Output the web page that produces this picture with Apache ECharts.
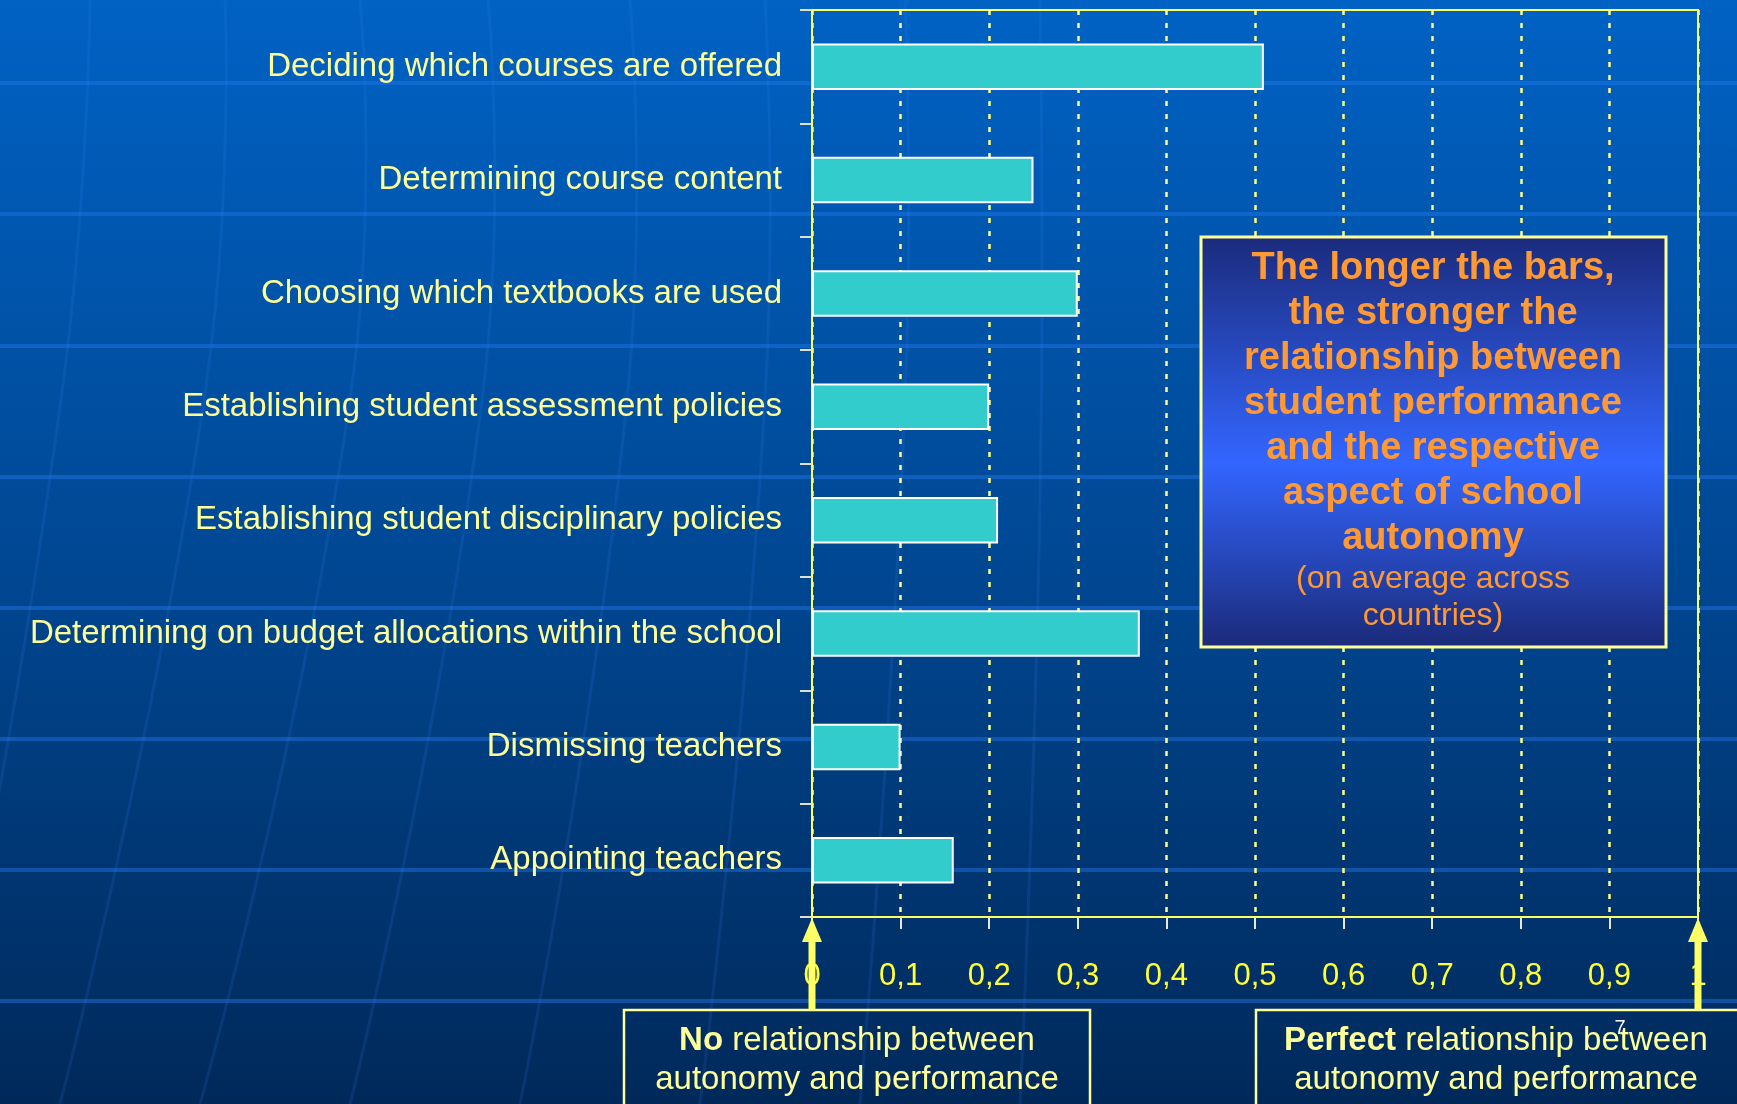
<!DOCTYPE html>
<html>
<head>
<meta charset="utf-8">
<style>
html, body { margin: 0; padding: 0; background: #00449a; }
#main { width: 1737px; height: 1104px; }
</style>
<script src="https://cdn.jsdelivr.net/npm/echarts@6/dist/echarts.min.js"></script>
</head>
<body>
<div id="main"></div>
<script>
// autonomy aspects, top to bottom as on the slide
var categories = [
    'Deciding which courses are offered',
    'Determining course content',
    'Choosing which textbooks are used',
    'Establishing student assessment policies',
    'Establishing student disciplinary policies',
    'Determining on budget allocations within the school',
    'Dismissing teachers',
    'Appointing teachers'
];
var values = [0.51, 0.25, 0.30, 0.20, 0.21, 0.37, 0.10, 0.16];
var tickLabels = ['0', '0,1', '0,2', '0,3', '0,4', '0,5', '0,6', '0,7', '0,8', '0,9', '1'];

var boxLines = [
    'The longer the bars,',
    'the stronger the',
    'relationship between',
    'student performance',
    'and the respective',
    'aspect of school',
    'autonomy'
];
var boxNote = ['(on average across', 'countries)'];

var FONT = "'Liberation Sans', Arial, sans-serif";
var paleYellow = '#ffff99';

var myChart = echarts.init(document.getElementById('main'));

var option = {
    animation: false,
    backgroundColor: {
        type: 'linear', x: 0, y: 0, x2: 0, y2: 1,
        colorStops: [
            {offset: 0, color: '#0062c4'},
            {offset: 0.5, color: '#004894'},
            {offset: 1, color: '#00295a'}
        ]
    },
    grid: {
        left: 812, right: 39, top: 10, bottom: 187,
        containLabel: false,
        show: true,
        borderColor: '#ffff66',
        borderWidth: 2
    },
    xAxis: {
        type: 'value',
        min: 0, max: 1, interval: 0.1,
        axisLine: {show: true, lineStyle: {color: '#ffff66', width: 2}},
        axisTick: {show: true, length: 12, lineStyle: {color: '#e8e8d0', width: 2}},
        axisLabel: {
            color: '#ffff33', fontSize: 31, fontFamily: FONT, margin: 44,
            formatter: function (v) { return tickLabels[Math.round(v * 10)]; }
        },
        splitLine: {
            show: true,
            lineStyle: {color: '#ffff88', width: 2.5, type: [5, 8]}
        }
    },
    yAxis: {
        type: 'category',
        inverse: true,
        data: categories,
        axisLine: {show: true, lineStyle: {color: '#ffff66', width: 2}},
        axisTick: {show: true, length: 12, lineStyle: {color: '#e0e0d0', width: 2}},
        axisLabel: {color: paleYellow, fontSize: 33, fontFamily: FONT, margin: 30, padding: [10, 0, 0, 0]}
    },
    series: [{
        type: 'bar',
        data: values,
        barWidth: '41%',
        itemStyle: {color: '#33cccc', borderColor: '#ffffff', borderWidth: 2}
    }]
};

myChart.setOption(option);

// background decoration: faint globe lines
var deco = [];
[83, 214, 346, 477, 608, 739, 870, 1001].forEach(function (y) {
    deco.push({
        type: 'rect', z: -10, silent: true,
        shape: {x: 0, y: y - 2, width: 1737, height: 4},
        style: {fill: 'rgba(30,120,235,0.45)'}
    });
});
var meridians = [
    [[90, 0], [61, 400], [-60, 1104]],
    [[225, 0], [204, 400], [60, 1104]],
    [[360, 0], [350, 400], [200, 1104]],
    [[488, 0], [482, 400], [350, 1104]],
    [[630, 0], [627, 400], [520, 1104]],
    [[765, 0], [765, 400], [700, 1104]],
    [[905, 0], [905, 400], [860, 1104]],
    [[1040, 0], [1040, 500], [1020, 1104]]
];
meridians.forEach(function (pts) {
    deco.push({
        type: 'polyline', z: -10, silent: true,
        shape: {points: pts, smooth: 0.5},
        style: {stroke: 'rgba(60,140,255,0.13)', lineWidth: 3, fill: null}
    });
});

// explanatory box
deco.push({
    type: 'rect', z: 20,
    shape: {x: 1201, y: 237, width: 465, height: 410},
    style: {
        fill: {
            type: 'linear', x: 0, y: 0, x2: 0, y2: 1,
            colorStops: [
                {offset: 0, color: '#1b2b7c'},
                {offset: 0.55, color: '#3366ff'},
                {offset: 1, color: '#1b2a78'}
            ]
        },
        stroke: paleYellow, lineWidth: 3
    }
});
deco.push({
    type: 'text', z: 21, x: 1433, y: 246,
    style: {
        text: boxLines.join('\n'),
        font: 'bold 38px ' + FONT,
        fill: '#ff9933', textAlign: 'center', textVerticalAlign: 'top',
        lineHeight: 45
    }
});
deco.push({
    type: 'text', z: 21, x: 1433, y: 561,
    style: {
        text: boxNote.join('\n'),
        font: '32px ' + FONT,
        fill: '#ff9933', textAlign: 'center', textVerticalAlign: 'top',
        lineHeight: 37
    }
});

// bottom boxes
deco.push({
    type: 'rect', z: 20,
    shape: {x: 624, y: 1010, width: 466, height: 110},
    style: {fill: 'rgba(0,0,0,0)', stroke: paleYellow, lineWidth: 2.5}
});
deco.push({
    type: 'rect', z: 20,
    shape: {x: 1256, y: 1010, width: 500, height: 110},
    style: {fill: 'rgba(0,0,0,0)', stroke: paleYellow, lineWidth: 2.5}
});
var rich = {
    b: {fontWeight: 'bold', fontSize: 33, fontFamily: FONT, fill: paleYellow},
    n: {fontSize: 33, fontFamily: FONT, fill: paleYellow}
};
deco.push({
    type: 'text', z: 21, x: 857, y: 1021,
    style: {
        text: '{b|No}{n| relationship between}\n{n|autonomy and performance}',
        rich: rich, textAlign: 'center', textVerticalAlign: 'top', lineHeight: 39
    }
});
deco.push({
    type: 'text', z: 21, x: 1496, y: 1021,
    style: {
        text: '{b|Perfect}{n| relationship between}\n{n|autonomy and performance}',
        rich: rich, textAlign: 'center', textVerticalAlign: 'top', lineHeight: 39
    }
});
deco.push({
    type: 'text', z: 22, x: 1620, y: 1028,
    style: {text: '7', font: '20px ' + FONT, fill: '#ffffff', textAlign: 'center', textVerticalAlign: 'middle'}
});

// arrows pointing at 0 and 1 on the axis
var axisY = 917;
[0, 1].forEach(function (v) {
    var px = myChart.convertToPixel({xAxisIndex: 0}, v);
    deco.push({
        type: 'rect', z: 22,
        shape: {x: px - 3.5, y: axisY + 22, width: 7, height: 1010 - axisY - 22},
        style: {fill: '#ffff66'}
    });
    deco.push({
        type: 'polygon', z: 22,
        shape: {points: [[px - 10, axisY + 25], [px + 10, axisY + 25], [px, axisY + 1]]},
        style: {fill: '#ffff66'}
    });
});

myChart.setOption({graphic: {elements: deco}});
</script>
</body>
</html>
